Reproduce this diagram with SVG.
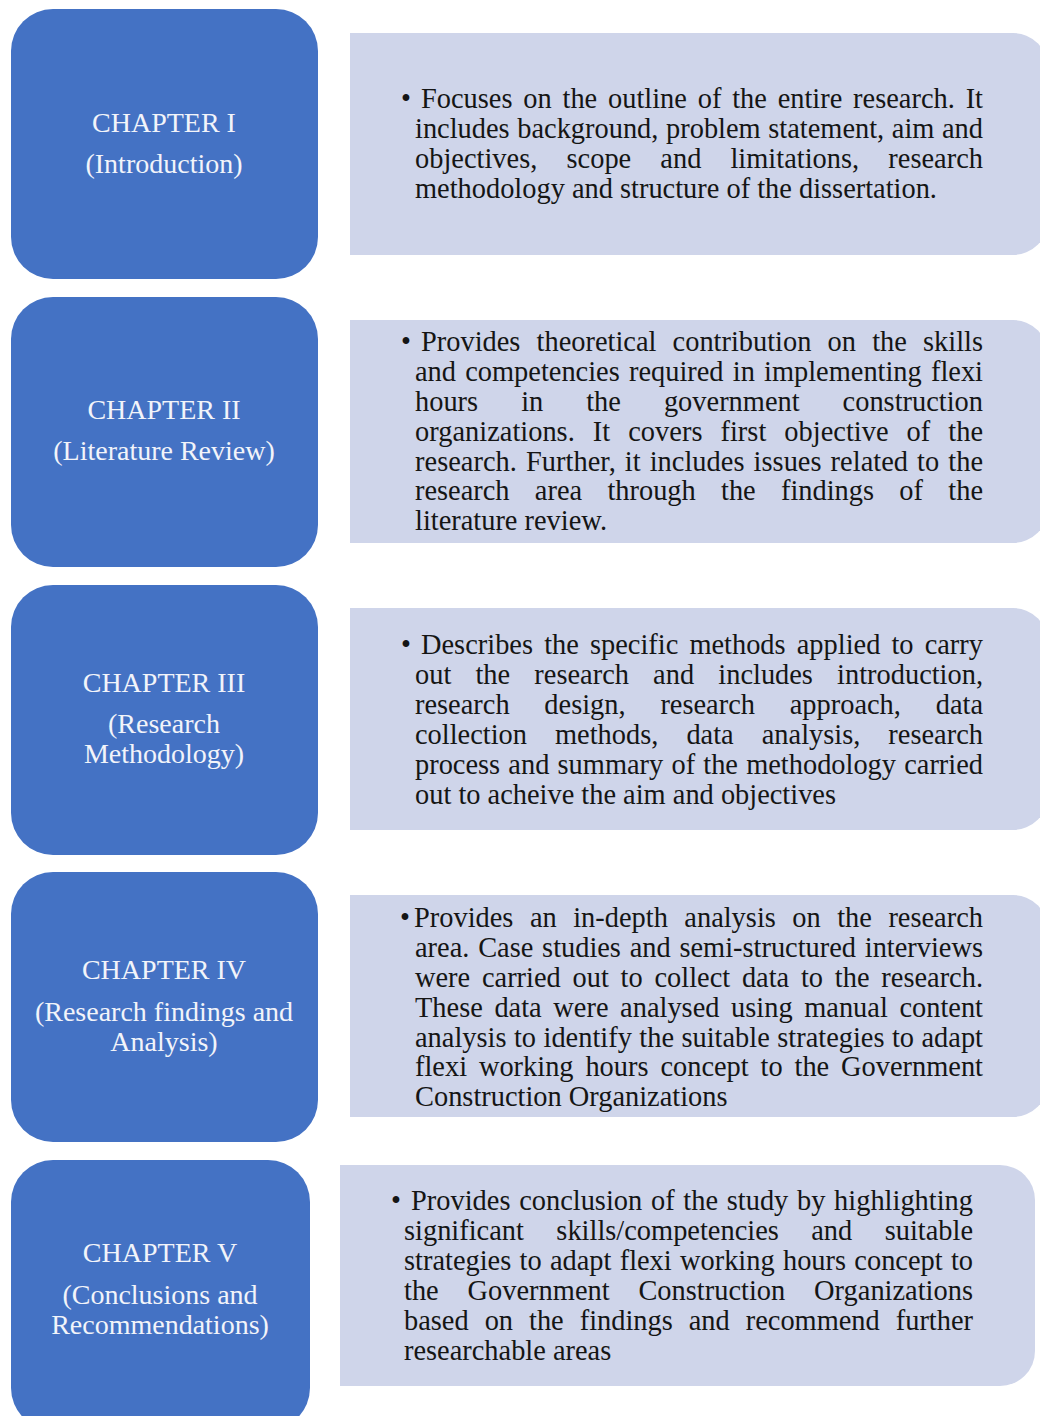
<svg xmlns="http://www.w3.org/2000/svg" width="1040" height="1416" viewBox="0 0 1040 1416">
  <style>
    .chap { fill: #4472C4; }
    .desc { fill: #CFD5EA; }
    .label { font-family: "Liberation Serif", "Times New Roman", serif; font-size: 28px; fill: #F2F4FA; text-anchor: middle; }
    .body { font-family: "Liberation Serif", "Times New Roman", serif; font-size: 28.4px; fill: #151515; }
  </style>
  <rect width="1040" height="1416" fill="#FFFFFF"/>

  <!-- Chapter I -->
  <g id="chapter-1">
    <rect class="chap" x="11" y="9" width="307" height="270" rx="42"/>
    <text class="label" x="164" y="132">CHAPTER I</text>
    <text class="label" x="164" y="173">(Introduction)</text>
  </g>
  <g id="summary-1">
    <path class="desc" d="M350 33 H1013 A35 35 0 0 1 1048 68 V220 A35 35 0 0 1 1013 255 H350 Z"/>
    <text class="body" x="401" y="108">•</text>
    <text class="body" x="421" y="108" textLength="562" lengthAdjust="spacing" style="word-spacing:3.7px">Focuses on the outline of the entire research. It</text>
    <text class="body" x="415" y="138" textLength="568" lengthAdjust="spacing" style="word-spacing:0.5px">includes background, problem statement, aim and</text>
    <text class="body" x="415" y="168" textLength="568" lengthAdjust="spacing" style="word-spacing:22px">objectives, scope and limitations, research</text>
    <text class="body" x="415" y="198">methodology and structure of the dissertation.</text>
  </g>

  <!-- Chapter II -->
  <g id="chapter-2">
    <rect class="chap" x="11" y="297" width="307" height="270" rx="42"/>
    <text class="label" x="164" y="419">CHAPTER II</text>
    <text class="label" x="164" y="460">(Literature Review)</text>
  </g>
  <g id="summary-2">
    <path class="desc" d="M350 320 H1013 A35 35 0 0 1 1048 355 V508 A35 35 0 0 1 1013 543 H350 Z"/>
    <text class="body" x="401" y="351">•</text>
    <text class="body" x="421" y="351" textLength="562" lengthAdjust="spacing" style="word-spacing:9.1px">Provides theoretical contribution on the skills</text>
    <text class="body" x="415" y="381" textLength="568" lengthAdjust="spacing" style="word-spacing:2.1px">and competencies required in implementing flexi</text>
    <text class="body" x="415" y="411" textLength="568" lengthAdjust="spacing" style="word-spacing:35.9px">hours in the government construction</text>
    <text class="body" x="415" y="441" textLength="568" lengthAdjust="spacing" style="word-spacing:10.9px">organizations. It covers first objective of the</text>
    <text class="body" x="415" y="471" textLength="568" lengthAdjust="spacing" style="word-spacing:1.9px">research. Further, it includes issues related to the</text>
    <text class="body" x="415" y="500" textLength="568" lengthAdjust="spacing" style="word-spacing:18.2px">research area through the findings of the</text>
    <text class="body" x="415" y="530">literature review.</text>
  </g>

  <!-- Chapter III -->
  <g id="chapter-3">
    <rect class="chap" x="11" y="585" width="307" height="270" rx="42"/>
    <text class="label" x="164" y="692">CHAPTER III</text>
    <text class="label" x="164" y="733">(Research</text>
    <text class="label" x="164" y="763">Methodology)</text>
  </g>
  <g id="summary-3">
    <path class="desc" d="M350 608 H1013 A35 35 0 0 1 1048 643 V795 A35 35 0 0 1 1013 830 H350 Z"/>
    <text class="body" x="401" y="654">•</text>
    <text class="body" x="421" y="654" textLength="562" lengthAdjust="spacing" style="word-spacing:4px">Describes the specific methods applied to carry</text>
    <text class="body" x="415" y="684" textLength="568" lengthAdjust="spacing" style="word-spacing:17.1px">out the research and includes introduction,</text>
    <text class="body" x="415" y="714" textLength="568" lengthAdjust="spacing" style="word-spacing:27.7px">research design, research approach, data</text>
    <text class="body" x="415" y="744" textLength="568" lengthAdjust="spacing" style="word-spacing:20.9px">collection methods, data analysis, research</text>
    <text class="body" x="415" y="774" textLength="568" lengthAdjust="spacing" style="word-spacing:1.1px">process and summary of the methodology carried</text>
    <text class="body" x="415" y="804">out to acheive the aim and objectives</text>
  </g>

  <!-- Chapter IV -->
  <g id="chapter-4">
    <rect class="chap" x="11" y="872" width="307" height="270" rx="42"/>
    <text class="label" x="164" y="979">CHAPTER IV</text>
    <text class="label" x="164" y="1021">(Research findings and</text>
    <text class="label" x="164" y="1051">Analysis)</text>
  </g>
  <g id="summary-4">
    <path class="desc" d="M350 895 H1013 A35 35 0 0 1 1048 930 V1082 A35 35 0 0 1 1013 1117 H350 Z"/>
    <text class="body" x="400" y="927">•</text>
    <text class="body" x="414" y="927" textLength="569" lengthAdjust="spacing" style="word-spacing:9.4px">Provides an in-depth analysis on the research</text>
    <text class="body" x="415" y="957" textLength="568" lengthAdjust="spacing" style="word-spacing:1.7px">area. Case studies and semi-structured interviews</text>
    <text class="body" x="415" y="987" textLength="568" lengthAdjust="spacing" style="word-spacing:4.7px">were carried out to collect data to the research.</text>
    <text class="body" x="415" y="1017" textLength="568" lengthAdjust="spacing" style="word-spacing:4.5px">These data were analysed using manual content</text>
    <text class="body" x="415" y="1047" textLength="568" lengthAdjust="spacing" style="word-spacing:0.3px">analysis to identify the suitable strategies to adapt</text>
    <text class="body" x="415" y="1076" textLength="568" lengthAdjust="spacing" style="word-spacing:4.8px">flexi working hours concept to the Government</text>
    <text class="body" x="415" y="1106">Construction Organizations</text>
  </g>

  <!-- Chapter V -->
  <g id="chapter-5">
    <rect class="chap" x="11" y="1160" width="299" height="270" rx="42"/>
    <text class="label" x="160" y="1262">CHAPTER V</text>
    <text class="label" x="160" y="1304">(Conclusions and</text>
    <text class="label" x="160" y="1334">Recommendations)</text>
  </g>
  <g id="summary-5">
    <path class="desc" d="M340 1165 H1000 A35 35 0 0 1 1035 1200 V1351 A35 35 0 0 1 1000 1386 H340 Z"/>
    <text class="body" x="391" y="1210">•</text>
    <text class="body" x="411" y="1210" textLength="562" lengthAdjust="spacing" style="word-spacing:1.6px">Provides conclusion of the study by highlighting</text>
    <text class="body" x="404" y="1240" textLength="569" lengthAdjust="spacing" style="word-spacing:25.3px">significant skills/competencies and suitable</text>
    <text class="body" x="404" y="1270" textLength="569" lengthAdjust="spacing" style="word-spacing:1.2px">strategies to adapt flexi working hours concept to</text>
    <text class="body" x="404" y="1300" textLength="569" lengthAdjust="spacing" style="word-spacing:21.7px">the Government Construction Organizations</text>
    <text class="body" x="404" y="1330" textLength="569" lengthAdjust="spacing" style="word-spacing:8.9px">based on the findings and recommend further</text>
    <text class="body" x="404" y="1360">researchable areas</text>
  </g>

  <!-- no connectors are drawn between the chapter blocks -->
  <g id="connectors"/>
</svg>
